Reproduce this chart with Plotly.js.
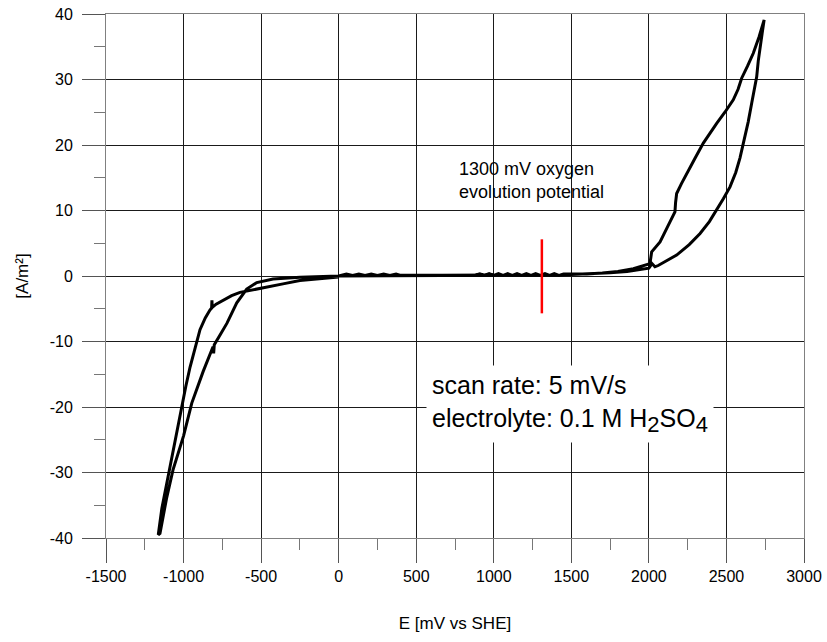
<!DOCTYPE html>
<html>
<head>
<meta charset="utf-8">
<script src="https://cdn.plot.ly/plotly-3.0.1.min.js"></script>
<style>html,body{margin:0;padding:0;background:#fff;}#chart{width:827px;height:642px;}</style>
</head>
<body>
<div id="chart"></div>
<script>
// Cyclic voltammogram
// potential E [mV vs SHE] and current density [A/m²], traced as one closed path
var E_mV = [
  0, -140, -250, -359, -450, -527, -580, -636, -690, -744, -790, -815, -817, -819, -830, -860, -894, -925, -958, -985, -1012, -1040, -1080, -1109, -1140, -1163,
  -1152, -1110, -1068, -1000, -947, -874, -810, -806, -802, -760, -720, -657, -593, -528, -423, -249, 0,
  50, 90, 130, 170, 210, 250, 290, 330, 370, 400, 600, 880,
  910, 940, 970, 1000, 1030, 1060, 1090, 1120, 1150, 1180, 1210, 1240, 1270, 1300, 1330, 1360, 1390, 1420, 1450,
  1600, 1700, 1800, 1900, 1960, 1995, 2007, 2018, 2045, 2072, 2120, 2168, 2172, 2179, 2210, 2244, 2300, 2351, 2395, 2437, 2490, 2544, 2575, 2598, 2635, 2673, 2710, 2743,
  2730, 2716, 2705, 2695, 2680, 2663, 2640, 2620, 2600, 2587, 2560, 2523, 2480, 2437, 2390, 2330, 2260, 2179, 2110, 2060, 2039, 2020, 2000, 1930, 1859, 1750, 1640, 1427, 1000, 500, 0
];
var J_Am2 = [
  -0.15, -0.4, -0.7, -1.2, -1.6, -2.0, -2.2, -2.5, -3.0, -3.7, -4.3, -4.8, -3.7, -4.9, -5.2, -6.4, -8.2, -10.8, -13.9, -16.8, -20.0, -23.5, -28.0, -31.6, -35.5, -39.5,
  -39.3, -34.0, -29.6, -24.4, -19.4, -14.6, -10.8, -11.8, -10.5, -8.8, -7.2, -4.1, -2.0, -1.0, -0.45, -0.2, 0.0,
  0.3, 0.1, 0.3, 0.1, 0.3, 0.1, 0.3, 0.1, 0.3, 0.1, 0.1, 0.12,
  0.35, 0.1, 0.35, 0.1, 0.35, 0.1, 0.35, 0.1, 0.35, 0.1, 0.35, 0.1, 0.35, 0.1, 0.35, 0.1, 0.35, 0.1, 0.3,
  0.3, 0.45, 0.7, 1.1, 1.5, 1.8, 1.9, 3.7, 4.4, 5.2, 7.5, 9.8, 11.2, 12.6, 14.1, 15.7, 18.1, 20.3, 21.9, 23.3, 25.0, 26.9, 28.5, 30.2, 32.0, 34.0, 36.5, 39.1,
  37.0, 35.0, 32.8, 30.4, 28.3, 26.4, 23.5, 21.3, 19.2, 18.0, 15.8, 13.6, 11.8, 10.1, 8.3, 6.5, 4.8, 3.2, 2.2, 1.6, 1.4, 1.9, 1.2, 0.95, 0.7, 0.5, 0.35, 0.15, 0.1, 0.05, 0.0
];
// red marker of the 1300 mV oxygen evolution potential
var O2_E = [1310, 1310];
var O2_J = [-5.7, 5.6];

var xTicks = [-1500, -1000, -500, 0, 500, 1000, 1500, 2000, 2500, 3000];
var yTicks = [-40, -30, -20, -10, 0, 10, 20, 30, 40];

var FONT = 'Arial, "Liberation Sans", sans-serif';

var traces = [
  {x: E_mV, y: J_Am2, type: 'scatter', mode: 'lines',
   line: {color: '#000000', width: 3}, hoverinfo: 'skip', showlegend: false},
  {x: O2_E, y: O2_J, type: 'scatter', mode: 'lines',
   line: {color: '#ff0000', width: 2.5}, hoverinfo: 'skip', showlegend: false}
];

var layout = {
  width: 827, height: 642,
  margin: {l: 106, r: 23, t: 14, b: 104},
  paper_bgcolor: '#ffffff', plot_bgcolor: '#ffffff',
  font: {family: FONT, color: '#000', size: 16},
  showlegend: false,
  xaxis: {
    range: [-1500, 3000], tickvals: xTicks, ticktext: xTicks.map(String),
    showgrid: true, gridcolor: '#1a1a1a', gridwidth: 1, zeroline: false,
    showline: true, linecolor: '#808080', linewidth: 1, mirror: true,
    ticks: 'outside', ticklen: 24, tickcolor: '#555', tickwidth: 1,
    minor: {dtick: 250, tick0: -1250, ticks: 'outside', ticklen: 11, tickcolor: '#777', showgrid: false},
    tickfont: {family: FONT, size: 16, color: '#000'},
    title: {text: 'E [mV vs SHE]', font: {family: FONT, size: 17, color: '#000'}, standoff: 32}
  },
  yaxis: {
    range: [-40, 40], tickvals: yTicks, ticktext: yTicks.map(String),
    showgrid: true, gridcolor: '#1a1a1a', gridwidth: 1, zeroline: false,
    showline: true, linecolor: '#808080', linewidth: 1, mirror: true,
    ticks: 'outside', ticklen: 23, tickcolor: '#555', tickwidth: 1,
    minor: {dtick: 5, tick0: -35, ticks: 'outside', ticklen: 11, tickcolor: '#777', showgrid: false},
    tickfont: {family: FONT, size: 16, color: '#000'},
    ticklabelstandoff: 6,
    title: {text: '[A/m²]', font: {family: FONT, size: 17, color: '#000'}, standoff: 16}
  },
  annotations: [
    {x: 763, y: 14.6, xref: 'x', yref: 'y', xanchor: 'left', yanchor: 'middle', align: 'left',
     text: '1300 mV oxygen<br>evolution potential', showarrow: false,
     font: {family: FONT, size: 18, color: '#000'}},
    {x: 563, y: -19.5, xref: 'x', yref: 'y', xanchor: 'left', yanchor: 'middle', align: 'left',
     text: 'scan rate: 5 mV/s<br>electrolyte: 0.1 M H<sub><span style="font-size:22px">2</span></sub>SO<sub><span style="font-size:22px">4</span></sub>',
     showarrow: false, bgcolor: '#ffffff', borderpad: 5,
     font: {family: FONT, size: 25, color: '#000'}}
  ]
};

Plotly.newPlot('chart', traces, layout, {displayModeBar: false, staticPlot: true});
</script>
</body>
</html>
